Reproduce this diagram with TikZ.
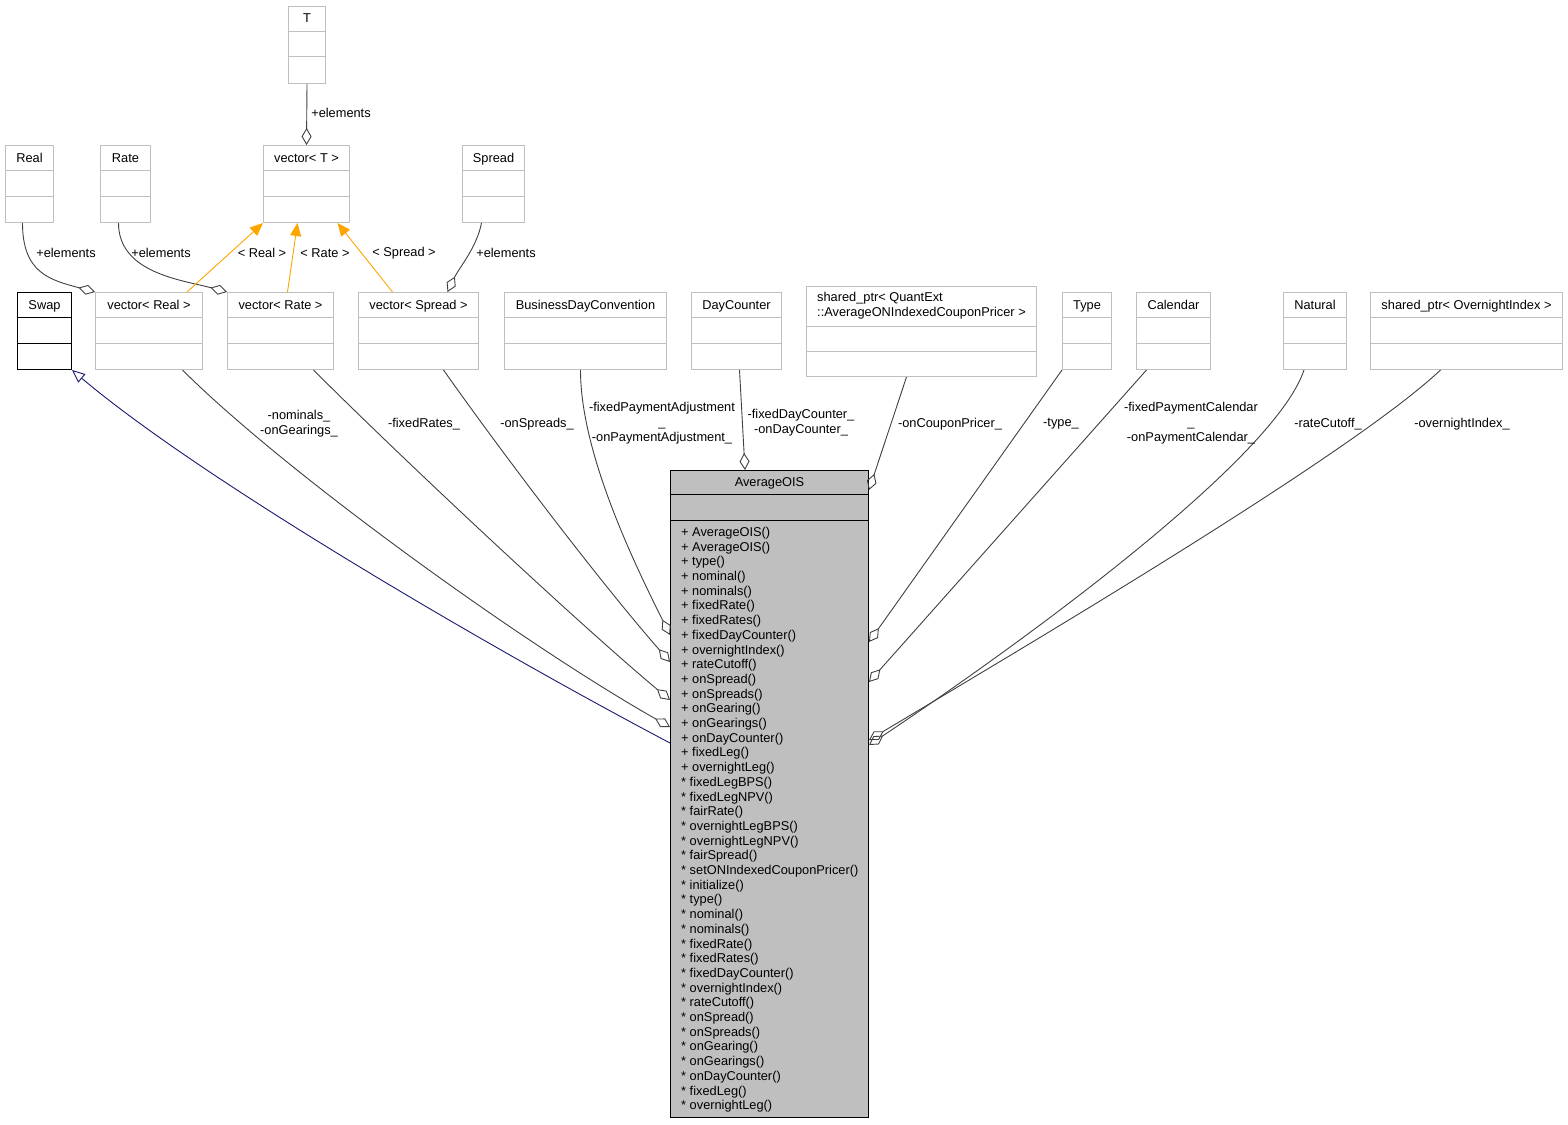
\documentclass[tikz,border=0pt]{standalone}
\usepackage{fontspec}
\setmainfont{Liberation Sans}
\usetikzlibrary{arrows.meta}
\definecolor{boxgray}{HTML}{BFBFBF}
\definecolor{edgegray}{HTML}{404040}
\definecolor{tmplorange}{HTML}{FFA500}
\definecolor{basenavy}{HTML}{191970}
\definecolor{oisfill}{HTML}{BFBFBF}
\begin{document}
\begin{tikzpicture}[x=1pt, y=-1pt, every node/.style={font=\fontsize{12.8}{14.7}\selectfont},
    cls/.style={draw=boxgray, line width=1pt, fill=white, anchor=north west, inner sep=0pt, minimum height=77pt},
    ttl/.style={anchor=base, inner sep=0pt},
    lbl/.style={align=center, inner sep=0pt},
    agg/.style={draw=edgegray, line width=0.9pt, -{Diamond[open, length=17pt, width=10pt]}},
    tmpl/.style={draw=tmplorange, line width=0.9pt, -{Triangle[length=13pt, width=11pt]}},
    inh/.style={draw=basenavy, line width=0.9pt, -{Triangle[fill=white, length=13pt, width=11pt]}}]
    \useasboundingbox (0,0) rectangle (1568,1124);
    % plain class boxes
    \foreach \cn/\cx/\cy/\cw/\ct in {t/288/6/37/T, vect/263/145/86/vector< T >, real/5/145/48/Real,
        rate/100/145/50/Rate, spread/462/145/62/Spread, vecreal/95/292/107/vector< Real >,
        vecrate/227/292/106/vector< Rate >, vecspread/358/292/120/vector< Spread >,
        bdc/504/292/162/BusinessDayConvention, daycounter/691/292/90/DayCounter,
        type/1062/292/49/Type, calendar/1136/292/74/Calendar, natural/1283/292/63/Natural,
        onindex/1370/292/192/shared\_ptr< OvernightIndex >}{
        \node[cls, minimum width=\cw pt] (\cn) at (\cx,\cy) {};
        \node[ttl] (\cn-t) at ([yshift=-17]\cn.north) {\ct};
        \draw[boxgray, line width=1pt] ([yshift=-25.5]\cn.north west) -- ([yshift=-25.5]\cn.north east);
        \draw[boxgray, line width=1pt] ([yshift=-51]\cn.north west) -- ([yshift=-51]\cn.north east);
    }
    \node[cls, minimum width=230pt, minimum height=90pt] (pricer) at (806,286) {};
    \node[align=left, inner sep=0pt] (pricer-t) at ([yshift=-20]pricer.north) {shared\_ptr< QuantExt\\::AverageONIndexedCouponPricer >};
    \draw[boxgray, line width=1pt] ([yshift=-40]pricer.north west) -- ([yshift=-40]pricer.north east);
    \draw[boxgray, line width=1pt] ([yshift=-65]pricer.north west) -- ([yshift=-65]pricer.north east);
    \node[cls, draw=black, minimum width=54pt] (swap) at (17,292) {};
    \node[ttl] (swap-t) at ([yshift=-17]swap.north) {Swap};
    \draw[line width=1pt] ([yshift=-25.5]swap.north west) -- ([yshift=-25.5]swap.north east);
    \draw[line width=1pt] ([yshift=-51]swap.north west) -- ([yshift=-51]swap.north east);
    % the main class
    \node[cls, draw=black, fill=oisfill, minimum width=198pt, minimum height=647pt] (ois) at (670,470) {};
    \node[ttl] (ois-t) at ([yshift=-16]ois.north) {AverageOIS};
    \draw[line width=1pt] ([yshift=-24]ois.north west) -- ([yshift=-24]ois.north east);
    \draw[line width=1pt] ([yshift=-50]ois.north west) -- ([yshift=-50]ois.north east);
    \node[anchor=north west, align=left, inner sep=0pt] (ois-m) at ([xshift=11, yshift=-57]ois.north west)
        {+ AverageOIS()\\+ AverageOIS()\\+ type()\\+ nominal()\\+ nominals()\\+ fixedRate()\\+ fixedRates()\\
         + fixedDayCounter()\\+ overnightIndex()\\+ rateCutoff()\\+ onSpread()\\+ onSpreads()\\+ onGearing()\\
         + onGearings()\\+ onDayCounter()\\+ fixedLeg()\\+ overnightLeg()\\* fixedLegBPS()\\* fixedLegNPV()\\
         * fairRate()\\* overnightLegBPS()\\* overnightLegNPV()\\* fairSpread()\\* setONIndexedCouponPricer()\\
         * initialize()\\* type()\\* nominal()\\* nominals()\\* fixedRate()\\* fixedRates()\\* fixedDayCounter()\\
         * overnightIndex()\\* rateCutoff()\\* onSpread()\\* onSpreads()\\* onGearing()\\* onGearings()\\
         * onDayCounter()\\* fixedLeg()\\* overnightLeg()};
    % templates
    \draw[agg] (t.south) -- (vect.north);
    \draw[agg] ([xshift=-7]real.south) .. controls +(0,50) and +(-45,-12) .. (vecreal.north west);
    \draw[agg] ([xshift=-7]rate.south) .. controls +(0,50) and +(-45,-12) .. (vecrate.north west);
    \draw[agg] ([xshift=-12]spread.south) .. controls +(-5,25) and +(12,-25) .. ([xshift=29]vecspread.north);
    \draw[tmpl] ([xshift=38]vecreal.north) -- (vect.south west);
    \draw[tmpl] ([xshift=7]vecrate.north) -- ([xshift=-9]vect.south);
    \draw[tmpl] ([xshift=-26]vecspread.north) -- ([xshift=31]vect.south);
    % base class
    \draw[inh] ([yshift=-273]ois.north west) .. controls +(-180,-95) and +(130,110) .. (swap.south east);
    % members
    \draw[agg] ([xshift=33.5]vecreal.south) .. controls +(100,100) and +(-150,-85) .. ([yshift=-257]ois.north west);
    \draw[agg] ([xshift=33]vecrate.south) .. controls +(90,90) and +(-90,-75) .. ([yshift=-230]ois.north west);
    \draw[agg] ([xshift=25]vecspread.south) .. controls +(60,85) and +(-70,-80) .. ([yshift=-192]ois.north west);
    \draw[agg] ([xshift=-5]bdc.south) .. controls +(0,80) and +(-40,-80) .. ([yshift=-165]ois.north west);
    \draw[agg] ([xshift=3]daycounter.south) -- ([xshift=75]ois.north west);
    \draw[agg] ([xshift=-15]pricer.south) -- ([yshift=-20]ois.north east);
    \draw[agg] (type.south west) -- ([yshift=-172]ois.north east);
    \draw[agg] ([xshift=-27]calendar.south) -- ([yshift=-212]ois.north east);
    \draw[agg] ([xshift=-11]natural.south) .. controls +(-30,90) and +(150,-100) .. ([yshift=-275]ois.north east);
    \draw[agg] ([xshift=-26]onindex.south) .. controls +(-90,85) and +(150,-90) .. ([yshift=-270]ois.north east);
    % labels
    \node[lbl] (l-elemt) at (341,113) {+elements};
    \node[lbl] (l-elemreal) at (66,253) {+elements};
    \node[lbl] (l-elemrate) at (161,253) {+elements};
    \node[lbl] (l-elemspread) at (506,253) {+elements};
    \node[lbl] (l-real) at (262,253) {< Real >};
    \node[lbl] (l-rate) at (325,253) {< Rate >};
    \node[lbl] (l-spread) at (404,253) {< Spread >};
    \node[lbl] (l-nominals) at (299,424) {-nominals\_\\-onGearings\_};
    \node[lbl] (l-fixedrates) at (424,424) {-fixedRates\_};
    \node[lbl] (l-onspreads) at (537,424) {-onSpreads\_};
    \node[lbl] (l-adjust) at (662,423) {-fixedPaymentAdjustment\\\_\\-onPaymentAdjustment\_};
    \node[lbl] (l-daycounter) at (801,423) {-fixedDayCounter\_\\-onDayCounter\_};
    \node[lbl] (l-pricer) at (950,424) {-onCouponPricer\_};
    \node[lbl] (l-type) at (1061,424) {-type\_};
    \node[lbl] (l-calendar) at (1191,423) {-fixedPaymentCalendar\\\_\\-onPaymentCalendar\_};
    \node[lbl] (l-cutoff) at (1328,424) {-rateCutoff\_};
    \node[lbl] (l-index) at (1462,424) {-overnightIndex\_};
\end{tikzpicture}
\end{document}
